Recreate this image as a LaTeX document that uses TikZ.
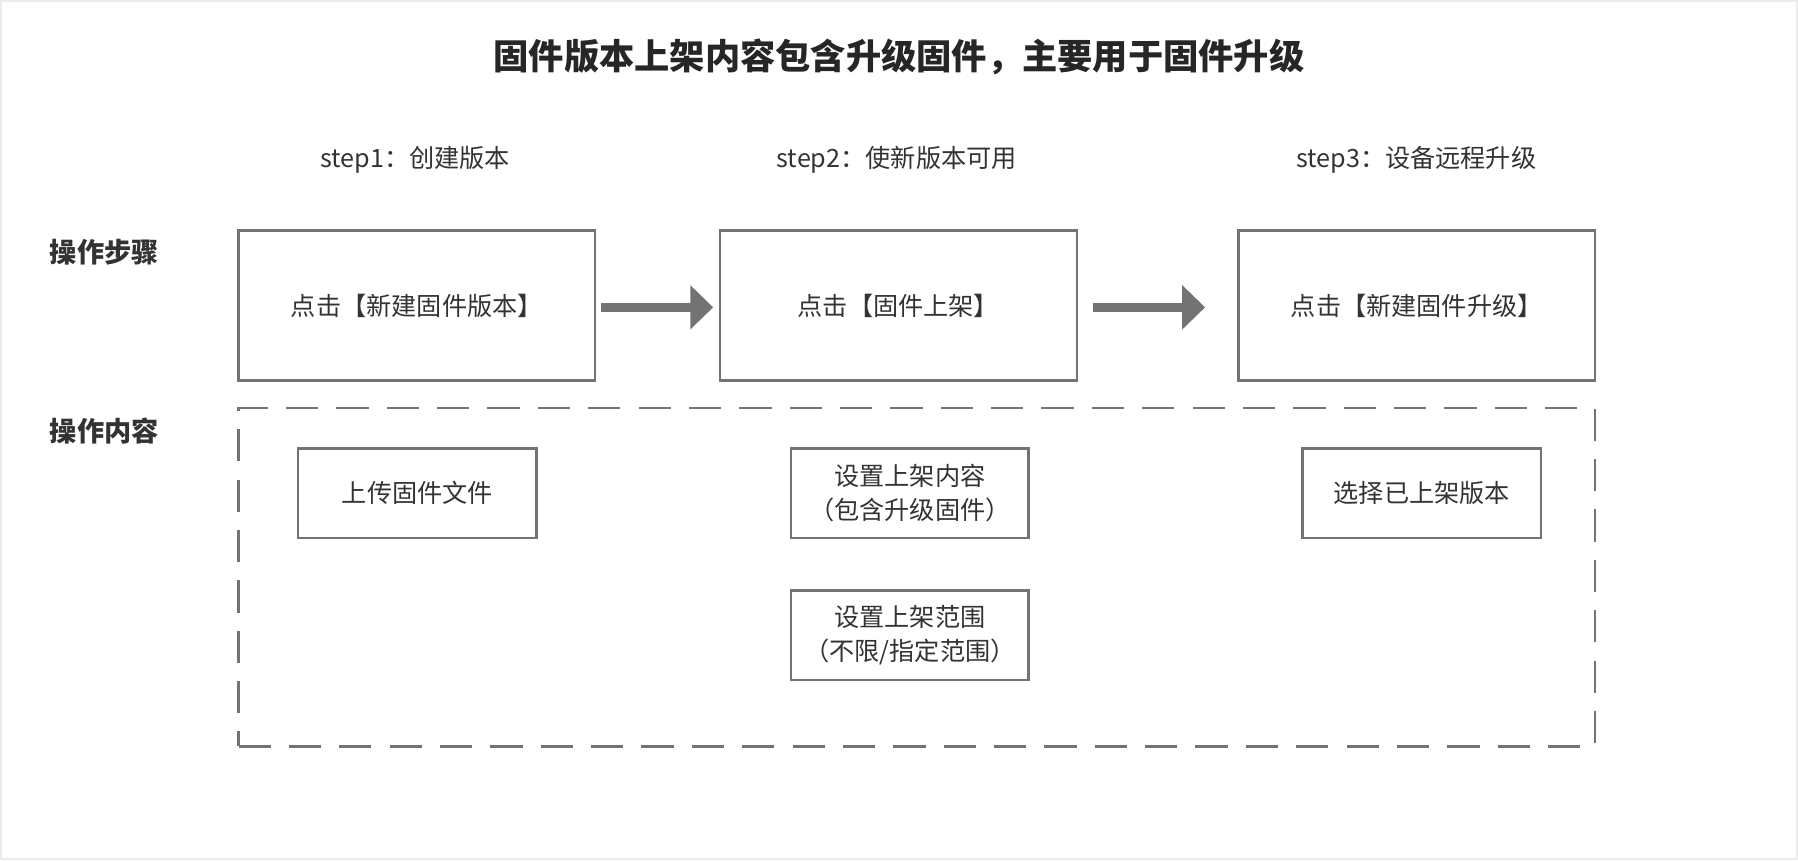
\documentclass[tikz,border=0pt]{standalone}
\usepackage{fontspec}
\setmainfont{Noto Sans CJK SC}
\usetikzlibrary{arrows.meta,calc}
\begin{document}
\begin{tikzpicture}[x=0.02cm,y=-0.02cm,
  box/.style={draw=black!55,line width=1.2pt,inner sep=0pt},
  txt/.style={font=\fontsize{12.5}{17}\selectfont,text=black!80,align=center},
  lbl/.style={font=\fontsize{13.5}{17}\selectfont\bfseries,text=black!80},
  arr/.style={draw=black!55,line width=0.16cm,-{Triangle[length=0.4cm,width=0.75cm]}}]
\useasboundingbox (0,0) rectangle (1568,750);
\draw[black!8,line width=1pt] (1,1) rectangle (1567,749);
\node[font=\fontsize{17.5}{20}\selectfont\bfseries,text=black!85] (title) at (784,50) {固件版本上架内容包含升级固件，主要用于固件升级};
\node[txt] (s1) at (362,139) {step1：创建版本};
\node[txt] (s2) at (782,139) {step2：使新版本可用};
\node[txt] (s3) at (1235,139) {step3：设备远程升级};
\node[lbl] (l1) at (91,220) {操作步骤};
\node[lbl] (l2) at (91,376) {操作内容};
\node[box,txt,minimum width=311*0.02cm,minimum height=131*0.02cm] (b1) at (363.5,266.5) {点击【新建固件版本】};
\node[box,txt,minimum width=311*0.02cm,minimum height=131*0.02cm] (b2) at (783.5,266.5) {点击【固件上架】};
\node[box,txt,minimum width=311*0.02cm,minimum height=131*0.02cm] (b3) at (1235.5,266.5) {点击【新建固件升级】};
\draw[arr] ($(b1.east)+(4,1.5)$) -- ($(b2.west)+(-5,1.5)$);
\draw[arr] ($(b2.east)+(13,1.5)$) -- ($(b3.west)+(-28,1.5)$);
\node[draw=black!55,line width=1.2pt,dash pattern=on 16pt off 9pt,minimum width=1183*0.02cm,minimum height=295*0.02cm] (dash) at (799.5,503.5) {};
\node[box,txt,minimum width=208*0.02cm,minimum height=78*0.02cm] (c1) at (364,430) {上传固件文件};
\node[box,txt,minimum width=207*0.02cm,minimum height=78*0.02cm] (c2) at (793.5,430) {设置上架内容\\（包含升级固件）};
\node[box,txt,minimum width=208*0.02cm,minimum height=78*0.02cm] (c3) at (1240,430) {选择已上架版本};
\node[box,txt,minimum width=207*0.02cm,minimum height=78*0.02cm] (c4) at (793.5,554) {设置上架范围\\（不限/指定范围）};
\end{tikzpicture}
\end{document}
